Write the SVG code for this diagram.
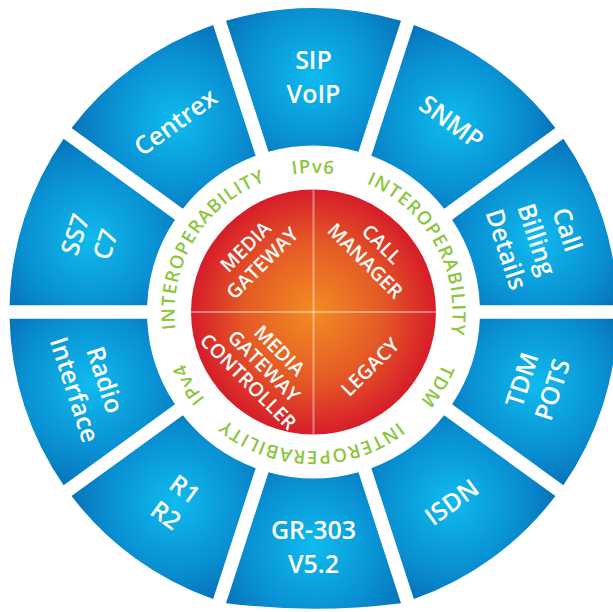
<svg xmlns="http://www.w3.org/2000/svg" xmlns:xlink="http://www.w3.org/1999/xlink" width="613" height="612" viewBox="0 0 613 612">
  <defs>
    <radialGradient id="blueGrad" gradientUnits="userSpaceOnUse" cx="0" cy="-235" r="122">
      <stop offset="0" stop-color="#0fbbee"/>
      <stop offset="0.55" stop-color="#0990d2"/>
      <stop offset="1" stop-color="#0664ad"/>
    </radialGradient>
    <radialGradient id="redGrad" gradientUnits="userSpaceOnUse" cx="313.5" cy="312" r="123">
      <stop offset="0" stop-color="#f28d22"/>
      <stop offset="0.55" stop-color="#e55b25"/>
      <stop offset="1" stop-color="#d61c2a"/>
    </radialGradient>
    <path id="seg" d="M-87.5,-291.14 A304,304 0 0 1 87.5,-291.14 L44.99,-160.31 A166.5,166.5 0 0 0 -44.99,-160.31 Z"/>
    <path id="ring" d="M175.03,299.89 A139,139 0 0 1 451.97,299.89"/>
    <style>
      .seg { fill: url(#blueGrad); }
      .lbl { font-family: "Open Sans", "Liberation Sans", sans-serif; font-weight: 600; font-size: 25px; fill: #ffffff; text-anchor: middle; }
      .core { font-family: "Open Sans", "Liberation Sans", sans-serif; font-weight: 600; font-size: 19.5px; fill: #ffffff; text-anchor: middle; }
      .ring { font-family: "Open Sans", "Liberation Sans", sans-serif; font-weight: 600; font-size: 18.5px; fill: #8cc63f; letter-spacing: 1.2px; }
      .cross { stroke: #ffffff; stroke-opacity: 0.4; stroke-width: 2; }
    </style>
  </defs>
  <rect width="613" height="612" fill="#ffffff"/>

  <!-- outer ring segments -->
  <g id="seg-sip" transform="translate(313.5,312) rotate(0)">
    <use href="#seg" class="seg"/>
    <text class="lbl" transform="translate(0,-235)"><tspan x="0" y="-8">SIP</tspan><tspan x="0" y="26">VoIP</tspan></text>
  </g>
  <g id="seg-snmp" transform="translate(313.5,312) rotate(36)">
    <use href="#seg" class="seg"/>
    <text class="lbl" transform="translate(0,-235)"><tspan x="0" y="9">SNMP</tspan></text>
  </g>
  <g id="seg-billing" transform="translate(313.5,312) rotate(72)">
    <use href="#seg" class="seg"/>
    <text class="lbl" transform="translate(0,-235)"><tspan x="0" y="-23">Call</tspan><tspan x="0" y="9">Billing</tspan><tspan x="0" y="41">Details</tspan></text>
  </g>
  <g id="seg-tdm" transform="translate(313.5,312) rotate(108)">
    <use href="#seg" class="seg"/>
    <text class="lbl" transform="translate(0,-235) rotate(180)"><tspan x="0" y="-7">TDM</tspan><tspan x="0" y="25">POTS</tspan></text>
  </g>
  <g id="seg-isdn" transform="translate(313.5,312) rotate(144)">
    <use href="#seg" class="seg"/>
    <text class="lbl" transform="translate(0,-235) rotate(180)"><tspan x="0" y="9">ISDN</tspan></text>
  </g>
  <g id="seg-gr303" transform="translate(313.5,312) rotate(180)">
    <path class="seg" d="M-87.5,-291.14 A700,700 0 0 1 87.5,-291.14 L44.99,-160.31 A166.5,166.5 0 0 0 -44.99,-160.31 Z"/>
    <text class="lbl" transform="translate(0,-235) rotate(180)"><tspan x="0" y="-8">GR-303</tspan><tspan x="0" y="26">V5.2</tspan></text>
  </g>
  <g id="seg-r1r2" transform="translate(313.5,312) rotate(216)">
    <use href="#seg" class="seg"/>
    <text class="lbl" transform="translate(0,-235) rotate(180)"><tspan x="0" y="-7">R1</tspan><tspan x="0" y="25">R2</tspan></text>
  </g>
  <g id="seg-radio" transform="translate(313.5,312) rotate(252)">
    <use href="#seg" class="seg"/>
    <text class="lbl" transform="translate(0,-235) rotate(180)"><tspan x="0" y="-7">Radio</tspan><tspan x="0" y="25">Interface</tspan></text>
  </g>
  <g id="seg-ss7" transform="translate(313.5,312) rotate(288)">
    <use href="#seg" class="seg"/>
    <text class="lbl" transform="translate(0,-235)"><tspan x="0" y="-7">SS7</tspan><tspan x="0" y="25">C7</tspan></text>
  </g>
  <g id="seg-centrex" transform="translate(313.5,312) rotate(324)">
    <use href="#seg" class="seg"/>
    <text class="lbl" transform="translate(0,-235)"><tspan x="0" y="9">Centrex</tspan></text>
  </g>

  <!-- interoperability ring -->
  <g id="ring-text">
    <text class="ring"><textPath href="#ring" startOffset="50%" text-anchor="middle">IPv6</textPath></text>
    <g transform="rotate(61,313.5,312)"><text class="ring"><textPath href="#ring" startOffset="50%" text-anchor="middle">INTEROPERABILITY</textPath></text></g>
    <g transform="rotate(121,313.5,312)"><text class="ring"><textPath href="#ring" startOffset="50%" text-anchor="middle">TDM</textPath></text></g>
    <g transform="rotate(181,313.5,312)"><text class="ring"><textPath href="#ring" startOffset="50%" text-anchor="middle">INTEROPERABILITY</textPath></text></g>
    <g transform="rotate(240,313.5,312)"><text class="ring"><textPath href="#ring" startOffset="50%" text-anchor="middle">IPv4</textPath></text></g>
    <g transform="rotate(301.5,313.5,312)"><text class="ring"><textPath href="#ring" startOffset="50%" text-anchor="middle">INTEROPERABILITY</textPath></text></g>
  </g>

  <!-- core -->
  <g id="core">
    <circle cx="313.5" cy="312" r="122.5" fill="url(#redGrad)"/>
    <line class="cross" x1="313.5" y1="189.5" x2="313.5" y2="434.5"/>
    <line class="cross" x1="191" y1="312" x2="436" y2="312"/>
  </g>
  <g id="core-media-gateway">
    <text class="core" transform="translate(254,255) rotate(-45)"><tspan x="0" y="-5">MEDIA</tspan><tspan x="0" y="18.5">GATEWAY</tspan></text>
  </g>
  <g id="core-call-manager">
    <text class="core" transform="translate(373.5,252.5) rotate(45)"><tspan x="0" y="-5">CALL</tspan><tspan x="0" y="18.5">MANAGER</tspan></text>
  </g>
  <g id="core-mgc">
    <text class="core" transform="translate(264,366) rotate(45)"><tspan x="0" y="-15">MEDIA</tspan><tspan x="0" y="7">GATEWAY</tspan><tspan x="0" y="29">CONTROLLER</tspan></text>
  </g>
  <g id="core-legacy">
    <text class="core" transform="translate(370,367) rotate(-45)"><tspan x="0" y="7">LEGACY</tspan></text>
  </g>
</svg>
